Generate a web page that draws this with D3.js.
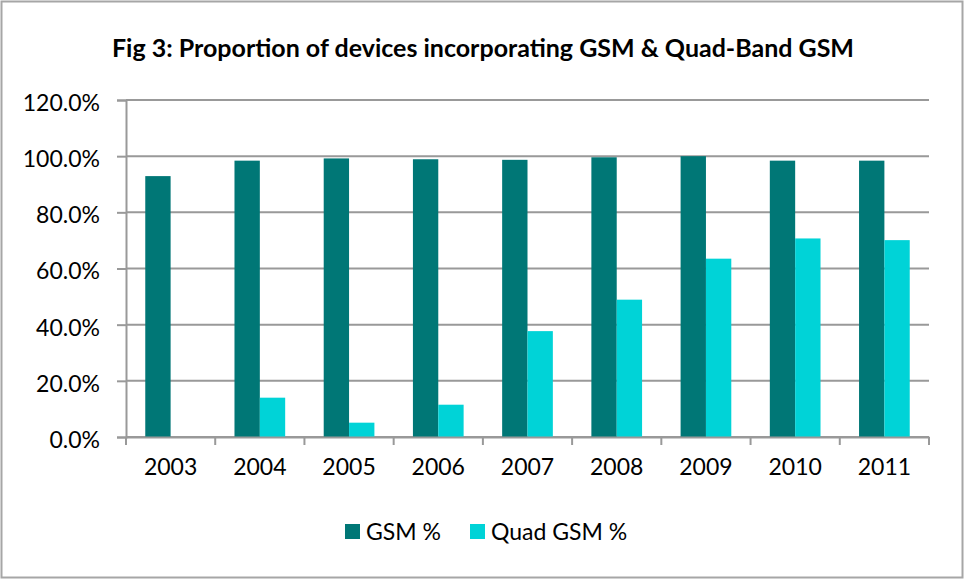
<!DOCTYPE html>
<html>
<head>
<meta charset="utf-8">
<script src="https://cdn.jsdelivr.net/npm/d3@7"></script>
<style>
  body { margin: 0; background: #fff; }
  text { font-family: Lato, sans-serif; fill: #000; }
</style>
</head>
<body>
<script>
// data
const years = ["2003", "2004", "2005", "2006", "2007", "2008", "2009", "2010", "2011"];
const gsm = [92.9, 98.4, 99.2, 98.9, 98.7, 99.6, 100.0, 98.4, 98.4];
const quadGsm = [null, 14.0, 5.1, 11.5, 37.7, 48.9, 63.5, 70.7, 70.1];
const seriesNames = ["GSM %", "Quad GSM %"];
const colors = ["#007776", "#00D3D7"];
const yTicks = [0, 20, 40, 60, 80, 100, 120];

const canvWidth = 964, canvHeight = 579;
const svg = d3.select("body").append("svg")
    .attr("width", canvWidth)
    .attr("height", canvHeight);

// outer border
svg.append("rect")
    .attr("x", 1.5).attr("y", 1.5)
    .attr("width", canvWidth - 3).attr("height", canvHeight - 3)
    .attr("fill", "#fff")
    .attr("stroke", "#a6a6a6")
    .attr("stroke-width", 2);

const margin = { top: 100, right: 35, bottom: 142, left: 126 };
const width = canvWidth - margin.left - margin.right;
const height = canvHeight - margin.top - margin.bottom;

// chart title
svg.append("text")
    .attr("x", 483)
    .attr("y", 57)
    .attr("font-size", "25px")
    .attr("font-weight", "bold")
    .style("text-anchor", "middle")
    .text("Fig 3: Proportion of devices incorporating GSM & Quad-Band GSM");

const g = svg.append("g")
    .attr("transform", "translate(" + margin.left + "," + margin.top + ")");

const xScale = d3.scaleBand().domain(years).range([0, width]);
const x1 = d3.scaleBand().domain(seriesNames)
    .range([0, xScale.bandwidth()])
    .paddingInner(0).paddingOuter(0.76);
const yScale = d3.scaleLinear().domain([0, 120]).range([height, 0]);

// gridlines
g.append("g")
    .selectAll("line")
    .data(yTicks)
    .enter().append("line")
    .attr("x1", 0).attr("x2", width)
    .attr("y1", d => yScale(d)).attr("y2", d => yScale(d))
    .attr("stroke", "#999")
    .attr("stroke-width", 2);

// y axis
const yAxis = g.append("g")
    .call(d3.axisLeft(yScale).tickValues(yTicks)
        .tickFormat(d => d.toFixed(1) + "%").tickSize(9).tickPadding(17));
yAxis.select(".domain").attr("stroke", "#999").attr("stroke-width", 2);
yAxis.selectAll(".tick line").attr("stroke", "#999").attr("stroke-width", 2);
yAxis.selectAll("text").attr("font-size", "23px").attr("font-family", "Lato, sans-serif")
    .attr("dy", "0.45em");

// bars
const groups = g.selectAll(".year")
    .data(years)
    .enter().append("g")
    .attr("transform", d => "translate(" + xScale(d) + ",0)");

[gsm, quadGsm].forEach((vals, s) => {
    groups.filter((d, i) => vals[i] != null)
        .append("rect")
        .attr("x", x1(seriesNames[s]))
        .attr("width", x1.bandwidth())
        .attr("y", d => yScale(vals[years.indexOf(d)]))
        .attr("height", d => height - yScale(vals[years.indexOf(d)]))
        .attr("fill", colors[s]);
});

// x axis
const xAxis = g.append("g")
    .attr("transform", "translate(0," + height + ")")
    .call(d3.axisBottom(xScale).tickSize(0).tickPadding(22));
xAxis.select(".domain").attr("stroke", "#999").attr("stroke-width", 2);
xAxis.selectAll("text").attr("font-size", "23px").attr("font-family", "Lato, sans-serif");
// tick marks on category boundaries
xAxis.selectAll(".bound")
    .data(d3.range(years.length + 1))
    .enter().append("line")
    .attr("x1", i => i * xScale.step()).attr("x2", i => i * xScale.step())
    .attr("y1", 0).attr("y2", 8)
    .attr("stroke", "#999")
    .attr("stroke-width", 2);

// legend
const legend = svg.append("g").attr("transform", "translate(345,531)");
const legendX = [0, 125];
seriesNames.forEach((name, i) => {
    legend.append("rect")
        .attr("x", legendX[i]).attr("y", -7)
        .attr("width", 15).attr("height", 15)
        .attr("fill", colors[i]);
    legend.append("text")
        .attr("x", legendX[i] + 21).attr("y", 0)
        .attr("dy", "0.4em")
        .attr("font-size", "23px")
        .text(name);
});
</script>
</body>
</html>
